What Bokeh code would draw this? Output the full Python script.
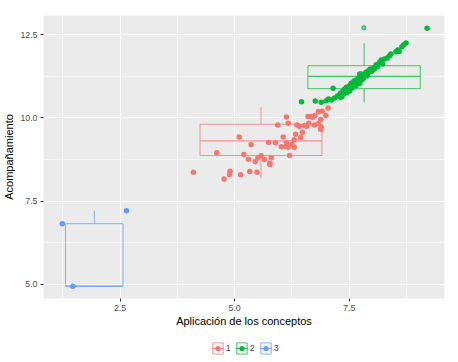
from bokeh.plotting import figure
from bokeh.layouts import column
from bokeh.models import Legend, LegendItem, Range1d, FixedTicker, NumeralTickFormatter
from bokeh.embed import file_html
from bokeh.resources import INLINE

# ---- data ----
groups = ["1", "2", "3"]
colors = ["#F8766D", "#00BA38", "#619CFF"]

red_x = [4.10, 4.61, 4.77, 4.89, 4.90, 5.10, 5.13, 5.20, 5.30, 5.33, 5.36, 5.45, 5.49, 5.51,
         5.58, 5.65, 5.74, 5.77, 5.77, 5.80, 5.89, 5.94, 6.02, 6.06, 6.13, 6.17, 6.13, 6.12,
         6.17, 6.20, 6.25, 6.30, 6.30, 6.33, 6.36, 6.42, 6.44, 6.48, 6.53, 7.04, 6.99, 6.91,
         6.83, 6.88, 6.89, 6.83, 6.75, 6.71, 6.67, 6.60, 6.62, 6.57, 6.74, 6.88]
red_y = [8.37, 8.95, 8.16, 8.30, 8.40, 9.43, 8.29, 8.90, 8.76, 8.39, 9.19, 8.69, 8.37, 8.80,
         8.86, 8.75, 9.26, 8.64, 8.60, 8.80, 9.25, 9.79, 9.13, 9.43, 10.03, 9.84, 9.25, 9.14,
         9.12, 8.87, 9.21, 9.12, 9.34, 9.51, 9.79, 9.74, 9.41, 9.57, 9.77, 10.30, 10.07, 10.20,
         10.19, 9.95, 9.72, 9.83, 10.07, 10.02, 10.04, 10.04, 9.84, 9.75, 9.79, 9.65]

green_x = [6.46, 6.76, 6.89, 7.00, 7.05, 7.11, 7.15, 7.18, 7.25, 7.31, 7.36, 7.40, 7.44, 7.46,
           7.51, 7.54, 7.56, 7.60, 7.62, 7.65, 7.67, 7.70, 7.73, 7.75, 7.78, 7.80, 7.83, 7.87,
           7.89, 7.92, 7.96, 7.99, 8.04, 8.09, 8.12, 8.16, 8.20, 8.23, 8.27, 8.33, 8.38, 8.41,
           8.52, 8.56, 8.59, 8.65, 8.69, 8.74, 9.20, 7.47, 7.53, 7.58, 7.63, 7.69, 7.76, 7.73,
           7.82, 7.85, 7.58, 7.65, 7.51, 7.44, 7.38, 7.34, 7.30, 7.76, 7.91, 7.94, 8.05]
green_y = [10.49, 10.51, 10.47, 10.52, 10.57, 10.54, 10.89, 10.60, 10.67, 10.74, 10.80, 10.87,
           10.92, 10.82, 10.97, 11.04, 10.92, 11.10, 10.97, 11.14, 11.02, 11.20, 11.32, 11.12,
           11.24, 11.17, 11.32, 11.37, 11.27, 11.42, 11.47, 11.40, 11.52, 11.60, 11.54, 11.67,
           11.74, 11.62, 11.77, 11.80, 11.87, 11.92, 11.99, 12.04, 12.00, 12.14, 12.20, 12.25,
           12.70, 10.77, 10.87, 11.02, 11.07, 11.12, 11.17, 11.04, 11.22, 11.27, 10.92, 10.97,
           10.82, 10.77, 10.72, 10.64, 10.62, 11.32, 11.34, 11.42, 11.47]

blue_x = [1.24, 1.47, 2.64]
blue_y = [6.82, 4.94, 7.21]

# box statistics per group (1, 2, 3)
box_xmin = [4.245, 6.60, 1.31]
box_xmax = [6.906, 9.05, 2.565]
box_lower = [8.19, 10.47, 4.94]
box_q1 = [8.87, 10.88, 4.94]
box_median = [9.31, 11.25, 4.94]
box_q3 = [9.81, 11.57, 6.82]
box_upper = [10.32, 12.25, 7.21]

out_x = [7.82]
out_y = [12.71]

x_ticks = [2.5, 5.0, 7.5]
x_minor = [1.25, 3.75, 6.25, 8.75]
y_ticks = [5.0, 7.5, 10.0, 12.5]
y_minor = [6.25, 8.75, 11.25]

FONT = "Liberation Sans"

p = figure(frame_width=401, frame_height=283,
           x_range=Range1d(0.83, 9.58), y_range=Range1d(4.57, 13.08),
           output_backend="svg", toolbar_location=None,
           background_fill_color="#EBEBEB", border_fill_color="white",
           min_border_left=34, min_border_top=15, min_border_right=7, min_border_bottom=0)
p.outline_line_color = None

for ax in (p.xaxis[0], p.yaxis[0]):
    ax.axis_line_color = None
    ax.major_tick_line_color = "#333333"
    ax.major_tick_in = 0
    ax.major_tick_out = 3
    ax.minor_tick_line_color = None
    ax.major_label_text_font = FONT
    ax.major_label_text_font_size = "8.8px"
    ax.major_label_text_color = "#4D4D4D"
    ax.axis_label_text_font = FONT
    ax.axis_label_text_font_size = "11px"
    ax.axis_label_text_font_style = "normal"
    ax.axis_label_text_color = "black"
    ax.formatter = NumeralTickFormatter(format="0.0")
    ax.major_label_standoff = 2

p.xaxis[0].ticker = FixedTicker(ticks=x_ticks, minor_ticks=x_minor)
p.yaxis[0].ticker = FixedTicker(ticks=y_ticks, minor_ticks=y_minor)
p.xaxis[0].axis_label = "Aplicación de los conceptos"
p.yaxis[0].axis_label = "Acompañamiento"
p.xaxis[0].axis_label_standoff = 1
p.yaxis[0].axis_label_standoff = 2

for g in (p.xgrid[0], p.ygrid[0]):
    g.grid_line_color = "white"
    g.grid_line_width = 1
    g.minor_grid_line_color = "white"
    g.minor_grid_line_width = 0.5

pts = [(red_x, red_y), (green_x, green_y), (blue_x, blue_y)]
for i, grp in enumerate(groups):
    c = colors[i]
    xmid = (box_xmin[i] + box_xmax[i]) / 2
    p.quad(left=[box_xmin[i]], right=[box_xmax[i]], bottom=[box_q1[i]], top=[box_q3[i]],
           fill_alpha=0, line_color=c, line_alpha=0.75, line_width=1)
    p.segment(x0=[box_xmin[i]], x1=[box_xmax[i]], y0=[box_median[i]], y1=[box_median[i]],
              line_color=c, line_alpha=0.75, line_width=1.2)
    p.segment(x0=[xmid, xmid], x1=[xmid, xmid], y0=[box_q3[i], box_lower[i]], y1=[box_upper[i], box_q1[i]],
              line_color=c, line_alpha=0.75, line_width=1)
    if grp == "2":
        p.scatter(out_x, out_y, size=4.5, color=c, alpha=0.6)
    p.scatter(x=pts[i][0], y=pts[i][1], size=5.5, color=c, line_width=0)

# legend strip: a small figure below the plot whose view range excludes the data,
# so only the legend keys are visible
p2 = figure(frame_width=401, frame_height=30, x_axis_type=None, y_axis_type=None,
            x_range=Range1d(-2, -1), y_range=Range1d(-2, -1),
            output_backend="svg", toolbar_location=None,
            min_border_left=34, min_border_right=7, min_border_top=0, min_border_bottom=0,
            background_fill_color="white", border_fill_color="white")
p2.outline_line_color = None
p2.grid.visible = False
items = []
for i, grp in enumerate(groups):
    c = colors[i]
    bg = p2.quad(left=[box_xmin[i]], right=[box_xmax[i]], bottom=[box_q1[i]], top=[box_q3[i]],
                 fill_color="#F2F2F2", line_color="white", line_width=2)
    b = p2.quad(left=[box_xmin[i]], right=[box_xmax[i]], bottom=[box_q1[i]], top=[box_q3[i]],
                fill_alpha=0, line_color=c, line_alpha=0.75)
    m = p2.segment(x0=[box_xmin[i]], x1=[box_xmax[i]], y0=[box_median[i]], y1=[box_median[i]],
                   line_color=c, line_alpha=0.75, line_width=1.2)
    s = p2.scatter(x=pts[i][0], y=pts[i][1], size=5.5, color=c, line_width=0)
    items.append(LegendItem(label=grp, renderers=[bg, b, m, s]))

legend = Legend(items=items, orientation="horizontal", location=(197, 4),
                border_line_color=None, background_fill_alpha=0,
                label_text_font=FONT, label_text_font_size="8.8px",
                label_width=5, label_height=11,
                glyph_width=13, glyph_height=14, spacing=4, label_standoff=2,
                padding=0, margin=0)
p2.add_layout(legend, "center")

layout = column(p, p2, spacing=0)
open("out.html", "w").write(file_html(layout, INLINE))
